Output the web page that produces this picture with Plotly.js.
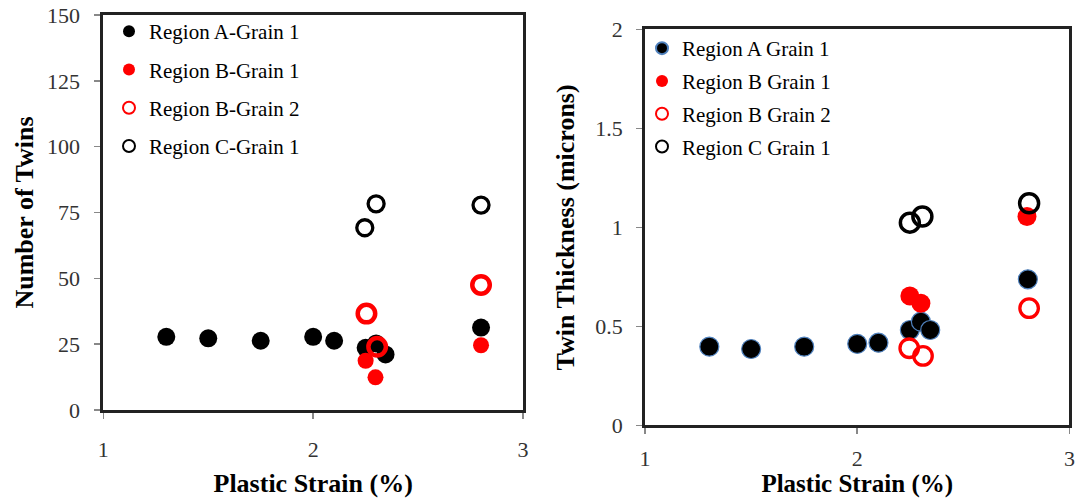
<!DOCTYPE html>
<html>
<head>
<meta charset="utf-8">
<script src="https://cdn.plot.ly/plotly-3.0.1.min.js"></script>
<style>html,body{margin:0;padding:0;background:#fff;}#chart{width:1081px;height:498px;}</style>
</head>
<body>
<div id="chart"></div>
<script>
// ---- Left panel: Number of Twins ----
var strainA_L = [1.30, 1.50, 1.75, 2.00, 2.10, 2.25, 2.30, 2.345, 2.80];
var twinsA    = [27.8, 27.2, 26.3, 27.8, 26.3, 23.6, 25.3, 21.1, 31.3];
var strainB1_L = [2.25, 2.297, 2.80];
var twinsB1    = [18.7, 12.4, 24.6];
var strainB2_L = [2.254, 2.305, 2.80];
var twinsB2    = [36.6, 24.0, 47.5];
var strainC_L  = [2.246, 2.30, 2.80];
var twinsC     = [69.2, 78.3, 77.8];

// ---- Right panel: Twin Thickness ----
var strainA_R = [1.303, 1.50, 1.75, 2.00, 2.10, 2.248, 2.30, 2.344, 2.804];
var thickA    = [0.398, 0.386, 0.398, 0.412, 0.418, 0.482, 0.524, 0.482, 0.738];
var strainB1_R = [2.248, 2.30, 2.80];
var thickB1    = [0.654, 0.617, 1.055];
var strainB2_R = [2.245, 2.31, 2.81];
var thickB2    = [0.39, 0.351, 0.592];
var strainC_R  = [2.248, 2.307, 2.81];
var thickC     = [1.024, 1.055, 1.122];

var namesL = ['Region A-Grain 1', 'Region B-Grain 1', 'Region B-Grain 2', 'Region C-Grain 1'];
var namesR = ['Region A Grain 1', 'Region B Grain 1', 'Region B Grain 2', 'Region C Grain 1'];
var xTicks = [1, 2, 3];
var yTicksL = [0, 25, 50, 75, 100, 125, 150];
var yTicksR = [0, 0.5, 1, 1.5, 2];
var yTickTextR = ['0', '0.5', '1', '1.5', '2'];

var RED = '#ff0000';
var serif = '"Liberation Serif", "Times New Roman", serif';

var traces = [
  {x: strainA_L, y: twinsA, name: namesL[0], legend: 'legend', legendgroup: 'l1', legendrank: 1,
   mode: 'markers', type: 'scatter', xaxis: 'x', yaxis: 'y',
   marker: {size: 18, color: '#000', line: {width: 0}}},
  {x: strainC_L, y: twinsC, name: namesL[3], legend: 'legend', legendgroup: 'l4', legendrank: 4,
   mode: 'markers', type: 'scatter', xaxis: 'x', yaxis: 'y',
   marker: {size: 16, symbol: 'circle-open', color: '#000', line: {width: 3.3, color: '#000'}}},
  {x: strainB2_L, y: twinsB2, name: namesL[2], legend: 'legend', legendgroup: 'l3', legendrank: 3,
   mode: 'markers', type: 'scatter', xaxis: 'x', yaxis: 'y',
   marker: {size: 17.5, symbol: 'circle-open', color: RED, line: {width: 4.5, color: RED}}},
  {x: strainB1_L, y: twinsB1, name: namesL[1], legend: 'legend', legendgroup: 'l2', legendrank: 2,
   mode: 'markers', type: 'scatter', xaxis: 'x', yaxis: 'y',
   marker: {size: 16, color: RED, line: {width: 0}}},

  {x: strainA_R, y: thickA, name: namesR[0], legend: 'legend2', legendgroup: 'r1', legendrank: 1,
   mode: 'markers', type: 'scatter', xaxis: 'x2', yaxis: 'y2',
   marker: {size: 19, color: '#000', line: {width: 1.2, color: '#4f81bd'}}},
  {x: strainB1_R, y: thickB1, name: namesR[1], legend: 'legend2', legendgroup: 'r2', legendrank: 2,
   mode: 'markers', type: 'scatter', xaxis: 'x2', yaxis: 'y2',
   marker: {size: 19, color: RED, line: {width: 0}}},
  {x: strainB2_R, y: thickB2, name: namesR[2], legend: 'legend2', legendgroup: 'r3', legendrank: 3,
   mode: 'markers', type: 'scatter', xaxis: 'x2', yaxis: 'y2',
   marker: {size: 18.5, symbol: 'circle-open', color: RED, line: {width: 3.3, color: RED}}},
  {x: strainC_R, y: thickC, name: namesR[3], legend: 'legend2', legendgroup: 'r4', legendrank: 4,
   mode: 'markers', type: 'scatter', xaxis: 'x2', yaxis: 'y2',
   marker: {size: 19, symbol: 'circle-open', color: '#000', line: {width: 3.5, color: '#000'}}}
];

function xAxis(domain, anchor, standoff, titleStandoff, titleSize) {
  return {
    domain: domain, anchor: anchor, range: [1, 3],
    tickmode: 'array', tickvals: xTicks, ticktext: xTicks.map(String),
    ticks: 'outside', ticklen: 6, tickwidth: 1.5, tickcolor: '#888',
    ticklabelstandoff: standoff,
    showline: true, linecolor: '#222', linewidth: 3, mirror: true,
    showgrid: false, zeroline: false,
    tickfont: {family: serif, size: 22, color: '#333'},
    title: {text: 'Plastic Strain (%)', standoff: titleStandoff,
            font: {family: serif, size: titleSize, color: '#000', weight: 'bold'}}
  };
}
function yAxis(domain, anchor, range, tv, tt, title, standoff, titleStandoff) {
  return {
    domain: domain, anchor: anchor, range: range,
    tickmode: 'array', tickvals: tv, ticktext: tt,
    ticks: 'outside', ticklen: 6, tickwidth: 1.5, tickcolor: '#888',
    ticklabelstandoff: standoff,
    showline: true, linecolor: '#222', linewidth: 3, mirror: true,
    showgrid: false, zeroline: false,
    tickfont: {family: serif, size: 22, color: '#333'},
    title: {text: title, standoff: titleStandoff,
            font: {family: serif, size: 26, color: '#000', weight: 'bold'}}
  };
}

var layout = {
  width: 1081, height: 498,
  margin: {l: 0, r: 0, t: 0, b: 0},
  paper_bgcolor: '#fff', plot_bgcolor: '#fff',
  showlegend: true,
  xaxis: xAxis([0.0956, 0.4838], 'y', 12, 13, 26),
  yaxis: yAxis([0.1767, 0.9699], 'x', [0, 150], yTicksL, yTicksL.map(String), 'Number of Twins', 10, 6),
  xaxis2: xAxis([0.5967, 0.9893], 'y2', 5, 7, 25),
  yaxis2: yAxis([0.1456, 0.9412], 'x2', [0, 2], yTicksR, yTickTextR, 'Twin Thickness (microns)', 9, 14),
  legend: {x: 109 / 1081, y: 1 - 11 / 498, xanchor: 'left', yanchor: 'top',
           bgcolor: 'rgba(0,0,0,0)', borderwidth: 0, itemsizing: 'constant',
           traceorder: 'grouped', tracegroupgap: 8,
           font: {family: serif, size: 21, color: '#000'}},
  legend2: {x: 642 / 1081, y: 1 - 28 / 498, xanchor: 'left', yanchor: 'top',
            bgcolor: 'rgba(0,0,0,0)', borderwidth: 0, itemsizing: 'constant',
            traceorder: 'grouped', tracegroupgap: 2.5,
            font: {family: serif, size: 21, color: '#000'}}
};

Plotly.newPlot('chart', traces, layout, {displayModeBar: false, staticPlot: true});
</script>
</body>
</html>
